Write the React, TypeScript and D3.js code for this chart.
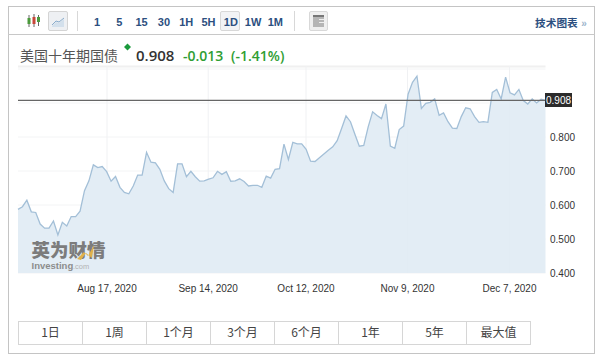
import React from "react";
import * as d3 from "d3";

const values = [
  0.587,0.595,0.614,0.58,0.578,0.544,0.532,0.532,0.553,0.512,0.549,0.538,0.566,0.566,0.582,0.642,0.671,0.718,0.71,0.713,
  0.698,0.67,0.684,0.652,0.637,0.633,0.656,0.688,0.688,0.755,0.726,0.724,0.705,0.671,0.648,0.637,0.721,
  0.721,0.683,0.699,0.683,0.67,0.671,0.676,0.68,0.699,0.69,0.698,0.67,0.671,0.677,0.669,0.656,0.658,0.658,0.652,0.685,0.679,0.705,0.707,
  0.779,0.734,0.784,0.78,0.78,0.764,0.729,0.728,0.739,0.75,0.761,0.771,0.789,0.825,0.862,0.845,
  0.808,0.773,0.775,0.83,0.874,0.863,0.854,0.897,0.773,0.767,0.822,0.832,0.926,0.961,0.979,0.884,0.899,0.902,0.912,0.864,0.871,0.845,0.826,0.825,
  0.86,0.886,0.883,0.86,0.843,0.845,0.843,0.931,0.94,0.912,0.976,0.93,0.924,0.94,0.907,0.897,0.912,0.9,0.911,0.908,
];
const yTicks = [0.4, 0.5, 0.6, 0.7, 0.8];
const dateTicks = [new Date(2020, 7, 17), new Date(2020, 8, 14), new Date(2020, 9, 12), new Date(2020, 10, 9), new Date(2020, 11, 7)];
const dateDomain = [new Date(2020, 6, 23), new Date(2020, 11, 17)];
const lastValue = 0.908;
const intervals = ["1", "5", "15", "30", "1H", "5H", "1D", "1W", "1M"];
const ranges = ["1日", "1周", "1个月", "3个月", "6个月", "1年", "5年", "最大值"];

const SANS = "'Liberation Sans', Arial, sans-serif";
const CJK = "'Noto Sans CJK SC', 'Liberation Sans', sans-serif";

export default function App() {
  const L = 18, R = 545.5, T = 66, B = 273;
  const x = d3.scaleLinear().domain([0, values.length - 1]).range([L, R]);
  const xTime = d3.scaleTime()
    .domain([dateDomain[0], ...dateTicks, dateDomain[1]])
    .range([L, 107, 208.2, 306, 407.5, 509.5, R]);
  const y = d3.scaleLinear().domain([0.4, 1.0]).range([B, B - 204]);
  const fmt = d3.timeFormat("%b %-d, %Y");
  const line = d3.line<number>().x((_, i) => x(i)).y((d) => y(d));
  const area = d3.area<number>().x((_, i) => x(i)).y0(B).y1((d) => y(d));
  const gridY = [0.4, 0.5, 0.6, 0.7, 0.8, 0.9, 1.0];
  const navy = "#2c4f80";
  return (
    <svg width={600} height={356} style={{ position: "absolute", left: 0, top: 0, background: "#fff" }}>
      {/* frame */}
      <rect x={8.5} y={6.5} width={586} height={347} fill="#fff" stroke="#c4c4c4" />
      <line x1={8} x2={595} y1={34.5} y2={34.5} stroke="#c8c8c8" />
      <line x1={77.5} x2={77.5} y1={11} y2={31} stroke="#d8d8d8" />
      <line x1={294.5} x2={294.5} y1={11} y2={31} stroke="#d8d8d8" />

      {/* candle icon */}
      <g>
        <line x1={29} x2={29} y1={15} y2={27} stroke="#666" />
        <rect x={27.5} y={18} width={3} height={6} fill="#4c9a3c" />
        <line x1={34} x2={34} y1={14} y2={27} stroke="#666" />
        <rect x={32.5} y={17} width={3} height={7} fill="#c8473a" />
        <line x1={38.5} x2={38.5} y1={15} y2={26} stroke="#666" />
        <rect x={37} y={17} width={3} height={5} fill="#4c9a3c" />
      </g>
      {/* line icon button */}
      <rect x={48.5} y={11.5} width={19} height={19} rx={1.5} fill="#eef0f3" stroke="#d4d4d4" />
      <path d="M52 26 L56 22 L59 23 L64 19 L64 27 L52 27 Z" fill="#d3e0ec" />
      <path d="M52 25 L56 21 L59 22 L64 18" fill="none" stroke="#8aaccb" />

      {/* intervals */}
      <rect x={220.5} y={11.5} width={19} height={19} rx={1.5} fill="#f2f3f5" stroke="#d8d8d8" />
      {intervals.map((t, i) => (
        <text key={t} x={97 + i * 22.3} y={26} textAnchor="middle" fontFamily={SANS} fontWeight={700} fontSize={11} fill={navy}>{t}</text>
      ))}
      {/* template icon */}
      <rect x={309.5} y={11.5} width={18} height={19} rx={1.5} fill="#efefef" stroke="#d8d8d8" />
      <rect x={313} y={15} width={11} height={12} fill="#b5b5b5" />
      <rect x={313} y={15} width={11} height={2} fill="#777" />
      <rect x={319} y={19} width={5} height={1} fill="#eee" />
      <rect x={319} y={22} width={5} height={1} fill="#eee" />
      <text x={535} y={27} fontFamily={CJK} fontWeight={700} fontSize={10.7} fill={navy}>技术图表</text>
      <text x={584} y={27} textAnchor="middle" fontFamily={SANS} fontWeight={700} fontSize={10} fill="#9db4cc">»</text>

      {/* title */}
      <text x={20} y={61} fontFamily={CJK} fontSize={14} fill="#555">美国十年期国债</text>
      <path d="M127.5 43.5 L131 47 L127.5 50.5 L124 47 Z" fill="#1a9a3c" />
      <text x={136} y={61} fontFamily={"'Open Sans', sans-serif"} fontWeight={600} fontSize={15} fill="#333">0.908</text>
      <text x={183} y={61} fontFamily={"'Open Sans', sans-serif"} fontWeight={600} fontSize={14} fill="#2f9e33">-0.013</text>
      <text x={231} y={61} fontFamily={"'Open Sans', sans-serif"} fontWeight={600} fontSize={14} fill="#2f9e33">(-1.41%)</text>

      {/* plot */}
      <line x1={L} x2={R} y1={T + 0.5} y2={T + 0.5} stroke="#f0f0f0" strokeWidth={2} />
      {gridY.map((v) => (
        <line key={v} x1={L} x2={R} y1={y(v)} y2={y(v)} stroke="#f3f4f5" />
      ))}
      {dateTicks.map((d) => (
        <line key={+d} x1={xTime(d)} x2={xTime(d)} y1={T} y2={B} stroke="#f0f1f3" />
      ))}
      <path d={area(values) ?? ""} fill="#e1ecf4" fillOpacity={0.92} />
      <path d={line(values) ?? ""} fill="none" stroke="#a3bfd7" strokeWidth={1.3} />

      {/* watermark */}
      <text x={31.5} y={257} fontFamily={CJK} fontWeight={900} fontSize={18.5} fill="#7c7c7c">英为财情</text>
      <path d="M77 259 L84 252 L88 256 L94 245 L92 258 L86 253 L81 260 Z" fill="#e0b14a" />
      <text x={31.5} y={269} fontFamily={SANS} fontWeight={700} fontSize={9.5} fill="#8c8c8c">Investing</text>
      <text x={73} y={269} fontFamily={SANS} fontSize={7.5} fill="#b3b3b3">.com</text>

      {/* last price */}
      <line x1={L} x2={R} y1={y(lastValue)} y2={y(lastValue)} stroke="#666" strokeWidth={1.2} />
      <rect x={545} y={93} width={27} height={14} fill="#2b2b2b" />
      <text x={558.5} y={103.5} textAnchor="middle" fontFamily={SANS} fontSize={10} fill="#fff">{lastValue.toFixed(3)}</text>

      {/* axes */}
      {yTicks.map((v) => (
        <text key={v} x={550} y={y(v) + 3.5} fontFamily={SANS} fontSize={10} fill="#333">{v.toFixed(3)}</text>
      ))}
      {dateTicks.map((d) => (
        <text key={+d} x={xTime(d)} y={292} textAnchor="middle" fontFamily={SANS} fontSize={10} fill="#333">{fmt(d)}</text>
      ))}

      {/* range buttons */}
      {ranges.map((r, i) => (
        <g key={r}>
          <rect x={18.5 + i * 64} y={321.5} width={64} height={23} fill="#fff" stroke="#d6d6d6" />
          <text x={50.5 + i * 64} y={337} textAnchor="middle" fontFamily={CJK} fontSize={12} fill="#444">{r}</text>
        </g>
      ))}
    </svg>
  );
}
